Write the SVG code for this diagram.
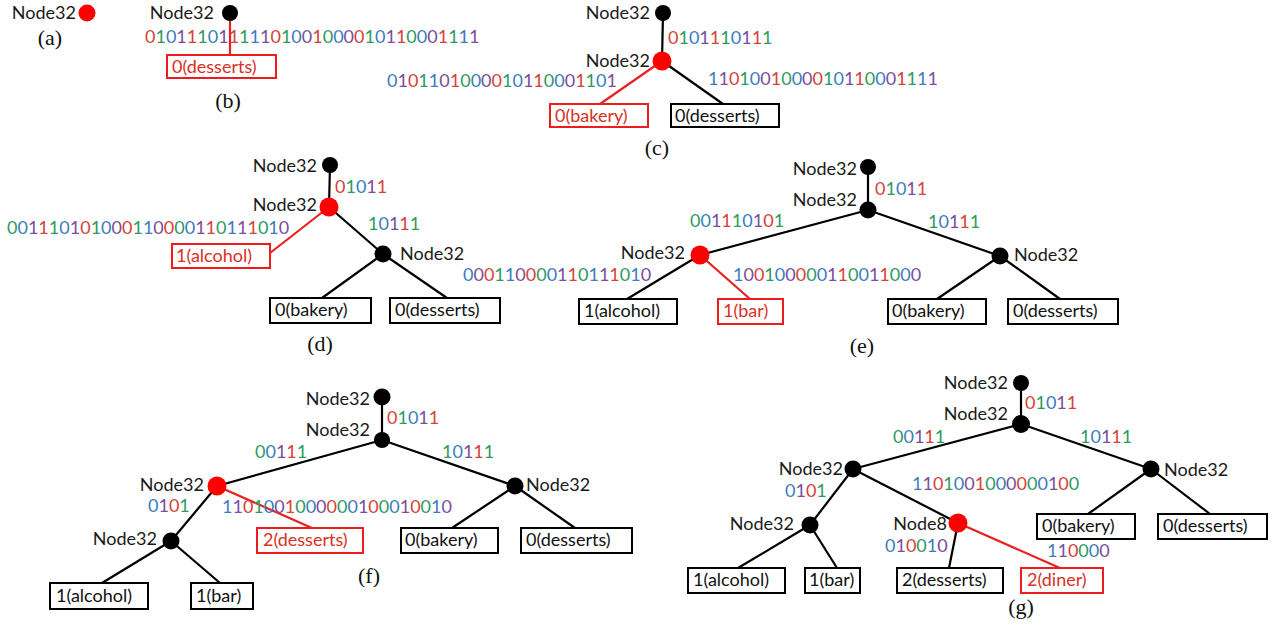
<svg xmlns="http://www.w3.org/2000/svg" width="1275" height="626" viewBox="0 0 1275 626">
<style>
text{font-family:Lato,"Liberation Sans",sans-serif;font-size:18px}
.lbl{fill:#1a1a1a}
.end{text-anchor:end}
.cr{fill:#d6423a}.cg{fill:#2e9b5e}.cb{fill:#3b7dbe}.cp{fill:#7a4e9e}
.box{fill:#fff;stroke:#000;stroke-width:2}
.rbox{fill:#fff;stroke:#ee1c1c;stroke-width:2}
.bt{fill:#111}
.rt{fill:#d93025}
.e{stroke:#000;stroke-width:2.2;fill:none}
.er{stroke:#e82020;stroke-width:2.2;fill:none}
.n{fill:#000}
.nr{fill:#ff0000}
.cap{font-family:"Liberation Serif",serif;font-size:22px;text-anchor:middle;fill:#111}
</style>
<rect width="1275" height="626" fill="#fff"/>

<g id="connectors">
<line class="er" x1="230" y1="13" x2="230" y2="55"/>
<line class="e" x1="663" y1="13" x2="662" y2="61"/>
<line class="er" x1="662" y1="61" x2="600" y2="104"/>
<line class="e" x1="662" y1="61" x2="723" y2="104"/>
<line class="e" x1="330" y1="165" x2="329" y2="207"/>
<line class="er" x1="329" y1="207" x2="270" y2="253"/>
<line class="e" x1="329" y1="207" x2="383" y2="254"/>
<line class="e" x1="383" y1="254" x2="322" y2="298"/>
<line class="e" x1="383" y1="254" x2="447" y2="298"/>
<line class="e" x1="868" y1="167" x2="868" y2="210"/>
<line class="e" x1="868" y1="210" x2="1000" y2="256"/>
<line class="e" x1="868" y1="210" x2="700" y2="255"/>
<line class="e" x1="700" y1="255" x2="627" y2="299"/>
<line class="er" x1="700" y1="255" x2="750" y2="299"/>
<line class="e" x1="1000" y1="256" x2="937" y2="299"/>
<line class="e" x1="1000" y1="256" x2="1060" y2="299"/>
<line class="e" x1="382" y1="397" x2="382" y2="440"/>
<line class="e" x1="382" y1="440" x2="515" y2="486"/>
<line class="e" x1="382" y1="440" x2="217" y2="486"/>
<line class="e" x1="217" y1="486" x2="171" y2="541"/>
<line class="er" x1="217" y1="486" x2="312" y2="528"/>
<line class="e" x1="515" y1="486" x2="452" y2="528"/>
<line class="e" x1="515" y1="486" x2="575" y2="528"/>
<line class="e" x1="171" y1="541" x2="102" y2="583"/>
<line class="e" x1="171" y1="541" x2="220" y2="583"/>
<line class="e" x1="1021" y1="383" x2="1021" y2="424"/>
<line class="e" x1="1021" y1="424" x2="1151" y2="469"/>
<line class="e" x1="1021" y1="424" x2="853" y2="469"/>
<line class="e" x1="853" y1="469" x2="810" y2="525"/>
<line class="e" x1="853" y1="469" x2="958" y2="523"/>
<line class="e" x1="958" y1="523" x2="949" y2="568"/>
<line class="er" x1="958" y1="523" x2="1060" y2="568"/>
<line class="e" x1="1151" y1="469" x2="1088" y2="514"/>
<line class="e" x1="1151" y1="469" x2="1210" y2="514"/>
<line class="e" x1="810" y1="525" x2="738" y2="568"/>
<line class="e" x1="810" y1="525" x2="837" y2="568"/>
</g>

<g id="edge-labels">
<text x="145" y="43"><tspan class="cr">0</tspan><tspan class="cg">1</tspan><tspan class="cb">0</tspan><tspan class="cp">1</tspan><tspan class="cr">1</tspan><tspan class="cg">1</tspan><tspan class="cb">0</tspan><tspan class="cp">1</tspan><tspan class="cr">1</tspan><tspan class="cg">1</tspan><tspan class="cb">1</tspan><tspan class="cp">1</tspan><tspan class="cr">0</tspan><tspan class="cg">1</tspan><tspan class="cb">0</tspan><tspan class="cp">0</tspan><tspan class="cr">1</tspan><tspan class="cg">0</tspan><tspan class="cb">0</tspan><tspan class="cp">0</tspan><tspan class="cr">0</tspan><tspan class="cg">1</tspan><tspan class="cb">0</tspan><tspan class="cp">1</tspan><tspan class="cr">1</tspan><tspan class="cg">0</tspan><tspan class="cb">0</tspan><tspan class="cp">0</tspan><tspan class="cr">1</tspan><tspan class="cg">1</tspan><tspan class="cb">1</tspan><tspan class="cp">1</tspan></text>
<text x="668" y="44"><tspan class="cr">0</tspan><tspan class="cg">1</tspan><tspan class="cb">0</tspan><tspan class="cp">1</tspan><tspan class="cr">1</tspan><tspan class="cg">1</tspan><tspan class="cb">0</tspan><tspan class="cp">1</tspan><tspan class="cr">1</tspan><tspan class="cg">1</tspan></text>
<text x="387" y="87"><tspan class="cb">0</tspan><tspan class="cp">1</tspan><tspan class="cr">0</tspan><tspan class="cg">1</tspan><tspan class="cb">1</tspan><tspan class="cp">0</tspan><tspan class="cr">1</tspan><tspan class="cg">0</tspan><tspan class="cb">0</tspan><tspan class="cp">0</tspan><tspan class="cr">0</tspan><tspan class="cg">1</tspan><tspan class="cb">0</tspan><tspan class="cp">1</tspan><tspan class="cr">1</tspan><tspan class="cg">0</tspan><tspan class="cb">0</tspan><tspan class="cp">0</tspan><tspan class="cr">1</tspan><tspan class="cg">1</tspan><tspan class="cb">0</tspan><tspan class="cp">1</tspan></text>
<text x="708" y="85"><tspan class="cb">1</tspan><tspan class="cp">1</tspan><tspan class="cr">0</tspan><tspan class="cg">1</tspan><tspan class="cb">0</tspan><tspan class="cp">0</tspan><tspan class="cr">1</tspan><tspan class="cg">0</tspan><tspan class="cb">0</tspan><tspan class="cp">0</tspan><tspan class="cr">0</tspan><tspan class="cg">1</tspan><tspan class="cb">0</tspan><tspan class="cp">1</tspan><tspan class="cr">1</tspan><tspan class="cg">0</tspan><tspan class="cb">0</tspan><tspan class="cp">0</tspan><tspan class="cr">1</tspan><tspan class="cg">1</tspan><tspan class="cb">1</tspan><tspan class="cp">1</tspan></text>
<text x="335" y="193"><tspan class="cr">0</tspan><tspan class="cg">1</tspan><tspan class="cb">0</tspan><tspan class="cp">1</tspan><tspan class="cr">1</tspan></text>
<text x="7" y="234"><tspan class="cg">0</tspan><tspan class="cb">0</tspan><tspan class="cp">1</tspan><tspan class="cr">1</tspan><tspan class="cg">1</tspan><tspan class="cb">0</tspan><tspan class="cp">1</tspan><tspan class="cr">0</tspan><tspan class="cg">1</tspan><tspan class="cb">0</tspan><tspan class="cp">0</tspan><tspan class="cr">0</tspan><tspan class="cg">1</tspan><tspan class="cb">1</tspan><tspan class="cp">0</tspan><tspan class="cr">0</tspan><tspan class="cg">0</tspan><tspan class="cb">0</tspan><tspan class="cp">1</tspan><tspan class="cr">1</tspan><tspan class="cg">0</tspan><tspan class="cb">1</tspan><tspan class="cp">1</tspan><tspan class="cr">1</tspan><tspan class="cg">0</tspan><tspan class="cb">1</tspan><tspan class="cp">0</tspan></text>
<text x="368" y="230"><tspan class="cg">1</tspan><tspan class="cb">0</tspan><tspan class="cp">1</tspan><tspan class="cr">1</tspan><tspan class="cg">1</tspan></text>
<text x="875" y="195"><tspan class="cr">0</tspan><tspan class="cg">1</tspan><tspan class="cb">0</tspan><tspan class="cp">1</tspan><tspan class="cr">1</tspan></text>
<text x="928" y="228"><tspan class="cg">1</tspan><tspan class="cb">0</tspan><tspan class="cp">1</tspan><tspan class="cr">1</tspan><tspan class="cg">1</tspan></text>
<text x="690" y="227"><tspan class="cg">0</tspan><tspan class="cb">0</tspan><tspan class="cp">1</tspan><tspan class="cr">1</tspan><tspan class="cg">1</tspan><tspan class="cb">0</tspan><tspan class="cp">1</tspan><tspan class="cr">0</tspan><tspan class="cg">1</tspan></text>
<text x="463" y="281"><tspan class="cb">0</tspan><tspan class="cp">0</tspan><tspan class="cr">0</tspan><tspan class="cg">1</tspan><tspan class="cb">1</tspan><tspan class="cp">0</tspan><tspan class="cr">0</tspan><tspan class="cg">0</tspan><tspan class="cb">0</tspan><tspan class="cp">1</tspan><tspan class="cr">1</tspan><tspan class="cg">0</tspan><tspan class="cb">1</tspan><tspan class="cp">1</tspan><tspan class="cr">1</tspan><tspan class="cg">0</tspan><tspan class="cb">1</tspan><tspan class="cp">0</tspan></text>
<text x="733" y="281"><tspan class="cb">1</tspan><tspan class="cp">0</tspan><tspan class="cr">0</tspan><tspan class="cg">1</tspan><tspan class="cb">0</tspan><tspan class="cp">0</tspan><tspan class="cr">0</tspan><tspan class="cg">0</tspan><tspan class="cb">0</tspan><tspan class="cp">1</tspan><tspan class="cr">1</tspan><tspan class="cg">0</tspan><tspan class="cb">0</tspan><tspan class="cp">1</tspan><tspan class="cr">1</tspan><tspan class="cg">0</tspan><tspan class="cb">0</tspan><tspan class="cp">0</tspan></text>
<text x="387" y="424"><tspan class="cr">0</tspan><tspan class="cg">1</tspan><tspan class="cb">0</tspan><tspan class="cp">1</tspan><tspan class="cr">1</tspan></text>
<text x="442" y="458"><tspan class="cg">1</tspan><tspan class="cb">0</tspan><tspan class="cp">1</tspan><tspan class="cr">1</tspan><tspan class="cg">1</tspan></text>
<text x="255" y="458"><tspan class="cg">0</tspan><tspan class="cb">0</tspan><tspan class="cp">1</tspan><tspan class="cr">1</tspan><tspan class="cg">1</tspan></text>
<text x="148" y="512"><tspan class="cb">0</tspan><tspan class="cp">1</tspan><tspan class="cr">0</tspan><tspan class="cg">1</tspan></text>
<text x="222" y="513"><tspan class="cb">1</tspan><tspan class="cp">1</tspan><tspan class="cr">0</tspan><tspan class="cg">1</tspan><tspan class="cb">0</tspan><tspan class="cp">0</tspan><tspan class="cr">1</tspan><tspan class="cg">0</tspan><tspan class="cb">0</tspan><tspan class="cp">0</tspan><tspan class="cr">0</tspan><tspan class="cg">0</tspan><tspan class="cb">0</tspan><tspan class="cp">1</tspan><tspan class="cr">0</tspan><tspan class="cg">0</tspan><tspan class="cb">0</tspan><tspan class="cp">1</tspan><tspan class="cr">0</tspan><tspan class="cg">0</tspan><tspan class="cb">1</tspan><tspan class="cp">0</tspan></text>
<text x="1025" y="409"><tspan class="cr">0</tspan><tspan class="cg">1</tspan><tspan class="cb">0</tspan><tspan class="cp">1</tspan><tspan class="cr">1</tspan></text>
<text x="1080" y="443"><tspan class="cg">1</tspan><tspan class="cb">0</tspan><tspan class="cp">1</tspan><tspan class="cr">1</tspan><tspan class="cg">1</tspan></text>
<text x="893" y="443"><tspan class="cg">0</tspan><tspan class="cb">0</tspan><tspan class="cp">1</tspan><tspan class="cr">1</tspan><tspan class="cg">1</tspan></text>
<text x="785" y="497"><tspan class="cb">0</tspan><tspan class="cp">1</tspan><tspan class="cr">0</tspan><tspan class="cg">1</tspan></text>
<text x="912" y="490"><tspan class="cb">1</tspan><tspan class="cp">1</tspan><tspan class="cr">0</tspan><tspan class="cg">1</tspan><tspan class="cb">0</tspan><tspan class="cp">0</tspan><tspan class="cr">1</tspan><tspan class="cg">0</tspan><tspan class="cb">0</tspan><tspan class="cp">0</tspan><tspan class="cr">0</tspan><tspan class="cg">0</tspan><tspan class="cb">0</tspan><tspan class="cp">1</tspan><tspan class="cr">0</tspan><tspan class="cg">0</tspan></text>
<text x="885" y="552"><tspan class="cb">0</tspan><tspan class="cp">1</tspan><tspan class="cr">0</tspan><tspan class="cg">0</tspan><tspan class="cb">1</tspan><tspan class="cp">0</tspan></text>
<text x="1047" y="557"><tspan class="cb">1</tspan><tspan class="cp">1</tspan><tspan class="cr">0</tspan><tspan class="cg">0</tspan><tspan class="cb">0</tspan><tspan class="cp">0</tspan></text>
</g>

<g id="a-root"><circle class="nr" cx="87" cy="13" r="8.5"/><text class="lbl end" x="76" y="19">Node32</text></g>
<g id="b-root"><circle class="n" cx="230" cy="13" r="8"/><text class="lbl end" x="214" y="19">Node32</text></g>
<g id="b-desserts"><rect class="rbox" x="167" y="55" width="109" height="23"/><text class="rt" x="172" y="73">0(desserts)</text></g>
<g id="c-root"><circle class="n" cx="663" cy="13" r="8"/><text class="lbl end" x="650" y="19">Node32</text></g>
<g id="c-n1"><circle class="nr" cx="662" cy="61" r="9.5"/><text class="lbl end" x="650" y="67">Node32</text></g>
<g id="c-bakery"><rect class="rbox" x="550" y="104" width="98" height="23"/><text class="rt" x="555" y="122">0(bakery)</text></g>
<g id="c-desserts"><rect class="box" x="671" y="104" width="108" height="23"/><text class="bt" x="675" y="122">0(desserts)</text></g>
<g id="d-root"><circle class="n" cx="330" cy="165" r="8"/><text class="lbl end" x="317" y="172">Node32</text></g>
<g id="d-n1"><circle class="nr" cx="329" cy="207" r="9.5"/><text class="lbl end" x="317" y="211">Node32</text></g>
<g id="d-n2"><circle class="n" cx="383" cy="254" r="8.5"/><text class="lbl" x="400" y="260">Node32</text></g>
<g id="d-alcohol"><rect class="rbox" x="172" y="244" width="98" height="24"/><text class="rt" x="176" y="262">1(alcohol)</text></g>
<g id="d-bakery"><rect class="box" x="270" y="298" width="101" height="25"/><text class="bt" x="275" y="316">0(bakery)</text></g>
<g id="d-desserts"><rect class="box" x="390" y="298" width="110" height="25"/><text class="bt" x="395" y="316">0(desserts)</text></g>
<g id="e-root"><circle class="n" cx="868" cy="167" r="8"/><text class="lbl end" x="857" y="175">Node32</text></g>
<g id="e-n1"><circle class="n" cx="868" cy="210" r="8.5"/><text class="lbl end" x="857" y="206">Node32</text></g>
<g id="e-n2"><circle class="n" cx="1000" cy="256" r="8.5"/><text class="lbl" x="1014" y="261">Node32</text></g>
<g id="e-n3"><circle class="nr" cx="700" cy="255" r="9.5"/><text class="lbl end" x="685" y="259">Node32</text></g>
<g id="e-alcohol"><rect class="box" x="579" y="299" width="98" height="25"/><text class="bt" x="584" y="317">1(alcohol)</text></g>
<g id="e-bar"><rect class="rbox" x="718" y="299" width="65" height="25"/><text class="rt" x="723" y="317">1(bar)</text></g>
<g id="e-bakery"><rect class="box" x="888" y="299" width="98" height="25"/><text class="bt" x="892" y="317">0(bakery)</text></g>
<g id="e-desserts"><rect class="box" x="1008" y="299" width="110" height="25"/><text class="bt" x="1013" y="317">0(desserts)</text></g>
<g id="f-root"><circle class="n" cx="382" cy="397" r="8.5"/><text class="lbl end" x="370" y="405">Node32</text></g>
<g id="f-n1"><circle class="n" cx="382" cy="440" r="8"/><text class="lbl end" x="370" y="436">Node32</text></g>
<g id="f-n2"><circle class="n" cx="515" cy="486" r="8.5"/><text class="lbl" x="526" y="491">Node32</text></g>
<g id="f-n3"><circle class="nr" cx="217" cy="486" r="9.5"/><text class="lbl end" x="204" y="491">Node32</text></g>
<g id="f-n4"><circle class="n" cx="171" cy="541" r="8.5"/><text class="lbl end" x="157" y="545">Node32</text></g>
<g id="f-desserts2"><rect class="rbox" x="257" y="528" width="106" height="25"/><text class="rt" x="263" y="546">2(desserts)</text></g>
<g id="f-bakery"><rect class="box" x="401" y="528" width="97" height="25"/><text class="bt" x="405" y="546">0(bakery)</text></g>
<g id="f-desserts"><rect class="box" x="521" y="528" width="111" height="25"/><text class="bt" x="526" y="546">0(desserts)</text></g>
<g id="f-alcohol"><rect class="box" x="50" y="583" width="98" height="26"/><text class="bt" x="56" y="602">1(alcohol)</text></g>
<g id="f-bar"><rect class="box" x="191" y="583" width="62" height="26"/><text class="bt" x="196" y="602">1(bar)</text></g>
<g id="g-root"><circle class="n" cx="1021" cy="383" r="8"/><text class="lbl end" x="1008" y="389">Node32</text></g>
<g id="g-n1"><circle class="n" cx="1021" cy="424" r="9"/><text class="lbl end" x="1008" y="420">Node32</text></g>
<g id="g-n2"><circle class="n" cx="1151" cy="469" r="8.5"/><text class="lbl" x="1164" y="476">Node32</text></g>
<g id="g-n3"><circle class="n" cx="853" cy="469" r="8.5"/><text class="lbl end" x="843" y="475">Node32</text></g>
<g id="g-n4"><circle class="n" cx="810" cy="525" r="8.5"/><text class="lbl end" x="794" y="530">Node32</text></g>
<g id="g-n5"><circle class="nr" cx="958" cy="523" r="9.5"/><text class="lbl end" x="947" y="530">Node8</text></g>
<g id="g-alcohol"><rect class="box" x="688" y="568" width="97" height="25"/><text class="bt" x="693" y="586">1(alcohol)</text></g>
<g id="g-bar"><rect class="box" x="805" y="568" width="55" height="25"/><text class="bt" x="809" y="586">1(bar)</text></g>
<g id="g-desserts2"><rect class="box" x="897" y="568" width="106" height="25"/><text class="bt" x="902" y="586">2(desserts)</text></g>
<g id="g-diner"><rect class="rbox" x="1021" y="568" width="82" height="25"/><text class="rt" x="1027" y="586">2(diner)</text></g>
<g id="g-bakery"><rect class="box" x="1037" y="514" width="98" height="25"/><text class="bt" x="1042" y="532">0(bakery)</text></g>
<g id="g-desserts"><rect class="box" x="1158" y="514" width="109" height="25"/><text class="bt" x="1163" y="532">0(desserts)</text></g>

<g id="captions">
<text class="cap" x="50" y="45">(a)</text>
<text class="cap" x="228" y="108">(b)</text>
<text class="cap" x="657" y="155">(c)</text>
<text class="cap" x="320" y="351">(d)</text>
<text class="cap" x="862" y="353">(e)</text>
<text class="cap" x="369" y="583">(f)</text>
<text class="cap" x="1021" y="614">(g)</text>
</g>
</svg>
